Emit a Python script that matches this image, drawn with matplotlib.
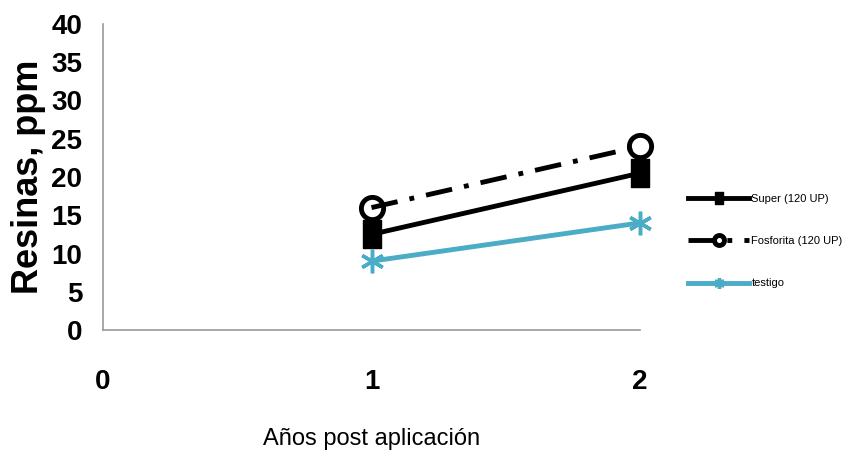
import matplotlib
matplotlib.use("Agg")
import matplotlib.pyplot as plt
from matplotlib.path import Path

# Resin-extractable P (ppm) by years after application
years = [1, 2]
super_120 = [12.5, 20.5]
fosforita_120 = [16, 24]
testigo = [9, 14]

plt.rcParams['font.family'] = ['Liberation Sans', 'DejaVu Sans']

# tall rectangle marker for the superphosphate series
tall_box = Path([(-0.33, -0.5), (0.33, -0.5), (0.33, 0.5), (-0.33, 0.5), (-0.33, -0.5)],
                [Path.MOVETO, Path.LINETO, Path.LINETO, Path.LINETO, Path.CLOSEPOLY])

fig = plt.figure(figsize=(8.52, 4.51), dpi=100)
ax = fig.add_axes([103/852, 1 - 330/451, 537/852, 306/451])

ax.plot(years, super_120, color='black', lw=3.5, marker=tall_box, ms=20,
        label='Super (120 UP)', zorder=3, clip_on=False)
ax.plot(years, fosforita_120, color='black', lw=3.5, ls=(0, (5.5, 2.5, 1, 2.5)),
        marker='o', ms=16, mfc='none', mec='black', mew=3.5,
        label='Fosforita (120 UP)', zorder=4, clip_on=False)
ax.plot(years, testigo, color='#4bacc6', lw=3.5, marker=(6, 2, 0), ms=17,
        mew=2.5, label='testigo', zorder=3, clip_on=False)

ax.set_xlim(0, 2)
ax.set_ylim(0, 40)
ax.set_xticks([0, 1, 2])
ax.set_yticks(range(0, 41, 5))
ax.tick_params(axis='both', length=0, labelsize=20)
ax.tick_params(axis='x', pad=28)
ax.tick_params(axis='y', pad=15)
for lab in ax.get_xticklabels() + ax.get_yticklabels():
    lab.set_fontweight('bold')

for s in ['top', 'right']:
    ax.spines[s].set_visible(False)
for s in ['left', 'bottom']:
    ax.spines[s].set_color('#999999')
    ax.spines[s].set_linewidth(1.2)

ax.set_ylabel('Resinas, ppm', fontsize=26, fontweight='bold', labelpad=4)
ax.set_xlabel('Años post aplicación', fontsize=17, labelpad=24)

leg = fig.legend(loc='upper left', bbox_to_anchor=(678/852, 1 - 184/451),
                 frameon=False, fontsize=8, markerscale=0.45,
                 handlelength=5.5, handletextpad=0.2, labelspacing=2.9)

fig.savefig('out.png', dpi=100)
